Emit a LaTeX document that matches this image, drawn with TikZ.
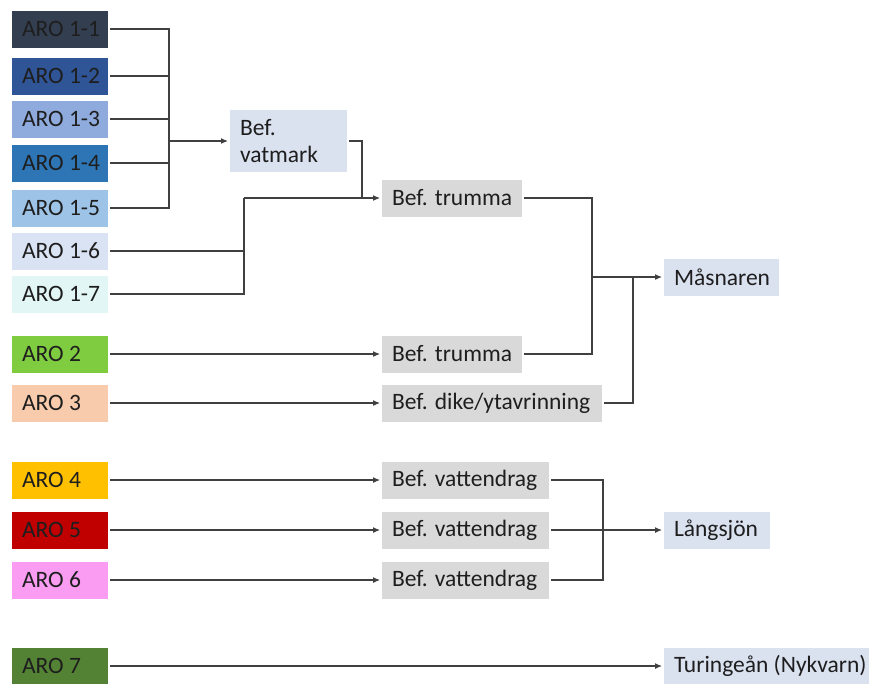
\documentclass[tikz,border=0pt]{standalone}
\usepackage{fontspec}
\setmainfont{Carlito}
\usetikzlibrary{arrows.meta}
\definecolor{c11}{HTML}{333F50}
\definecolor{c12}{HTML}{2F5597}
\definecolor{c13}{HTML}{8FAADC}
\definecolor{c14}{HTML}{2E75B6}
\definecolor{c15}{HTML}{9DC3E6}
\definecolor{c16}{HTML}{DAE3F3}
\definecolor{c17}{HTML}{E2F7F5}
\definecolor{c2}{HTML}{80CC40}
\definecolor{c3}{HTML}{F8CBAD}
\definecolor{c4}{HTML}{FFC000}
\definecolor{c5}{HTML}{C00000}
\definecolor{c6}{HTML}{F99CF2}
\definecolor{c7}{HTML}{548235}
\definecolor{bluebox}{HTML}{DAE1EF}
\definecolor{greybox}{HTML}{D9D9D9}
\definecolor{linec}{HTML}{404040}
\definecolor{txt}{HTML}{1E1E1E}
\newcommand{\lbox}[2]{\makebox[#1][l]{#2}}
\begin{document}
\begin{tikzpicture}[x=1pt,y=-1pt,
  every node/.style={font=\fontsize{23.5}{27}\selectfont, text=txt},
  box/.style={rectangle, draw=none, anchor=west, minimum height=37pt, inner xsep=10pt, inner ysep=0pt, outer sep=2pt},
  aro/.style={box, minimum width=96pt},
  grey/.style={box, fill=greybox},
  blue/.style={box, fill=bluebox},
  conn/.style={draw=linec, line width=1.1pt},
  arr/.style={conn, -{Latex[length=7pt,width=6pt]}}
]
\useasboundingbox (0,0) rectangle (869,683);
% left boxes
\node[aro, fill=c11] (a11) at (10,29) {\lbox{76pt}{ARO 1-1}};
\node[aro, fill=c12] (a12) at (10,76) {\lbox{76pt}{ARO 1-2}};
\node[aro, fill=c13] (a13) at (10,119) {\lbox{76pt}{ARO 1-3}};
\node[aro, fill=c14] (a14) at (10,163) {\lbox{76pt}{ARO 1-4}};
\node[aro, fill=c15] (a15) at (10,208) {\lbox{76pt}{ARO 1-5}};
\node[aro, fill=c16] (a16) at (10,251) {\lbox{76pt}{ARO 1-6}};
\node[aro, fill=c17] (a17) at (10,294) {\lbox{76pt}{ARO 1-7}};
\node[aro, fill=c2] (a2) at (10,354) {\lbox{76pt}{ARO 2}};
\node[aro, fill=c3] (a3) at (10,403) {\lbox{76pt}{ARO 3}};
\node[aro, fill=c4] (a4) at (10,480) {\lbox{76pt}{ARO 4}};
\node[aro, fill=c5] (a5) at (10,530) {\lbox{76pt}{ARO 5}};
\node[aro, fill=c6] (a6) at (10,580) {\lbox{76pt}{ARO 6}};
\node[aro, fill=c7, minimum height=36pt] (a7) at (10,666) {\lbox{76pt}{ARO 7}};
% middle boxes
\node[blue, minimum height=62pt, align=left] (vat) at (228,141) {\lbox{97pt}{Bef.}\\\lbox{97pt}{vatmark}};
\node[grey] (t1) at (380,198) {\lbox{120pt}{Bef. trumma}};
\node[grey] (t2) at (380,354) {\lbox{120pt}{Bef. trumma}};
\node[grey] (dike) at (380,403) {\lbox{200pt}{Bef. dike/ytavrinning}};
\node[grey] (v4) at (380,480) {\lbox{147pt}{Bef. vattendrag}};
\node[grey] (v5) at (380,530) {\lbox{147pt}{Bef. vattendrag}};
\node[grey] (v6) at (380,580) {\lbox{147pt}{Bef. vattendrag}};
% right boxes
\node[blue] (mas) at (662,277) {\lbox{95pt}{Måsnaren}};
\node[blue] (lang) at (662,530) {\lbox{86pt}{Långsjön}};
\node[blue, minimum height=36pt] (tur) at (662,666) {\lbox{185pt}{Turingeån (Nykvarn)}};
% junctions
\coordinate (j1) at (169,141);
\coordinate (j2) at (362,198);
\coordinate (j3) at (244,198);
\coordinate (j4) at (592,277);
\coordinate (j5) at (633,277);
\coordinate (j6) at (603,530);
% connectors
\draw[conn] (a11.east) -| (j1);
\draw[conn] (a12.east) -| (j1);
\draw[conn] (a13.east) -| (j1);
\draw[conn] (a14.east) -| (j1);
\draw[conn] (a15.east) -| (j1);
\draw[arr] (j1) -- (vat.west);
\draw[conn] (vat.east) -| (j2);
\draw[conn] (a16.east) -| (j3);
\draw[conn] (a17.east) -| (j3);
\draw[arr] (j3) -- (t1.west);
\draw[arr] (a2.east) -- (t2.west);
\draw[arr] (a3.east) -- (dike.west);
\draw[conn] (t1.east) -| (j4);
\draw[conn] (t2.east) -| (j4);
\draw[conn] (dike.east) -| (j5);
\draw[arr] (j4) -- (mas.west);
\draw[arr] (a4.east) -- (v4.west);
\draw[arr] (a5.east) -- (v5.west);
\draw[arr] (a6.east) -- (v6.west);
\draw[conn] (v4.east) -| (j6);
\draw[conn] (v6.east) -| (j6);
\draw[arr] (v5.east) -- (lang.west);
\draw[arr] (a7.east) -- (tur.west);
\end{tikzpicture}
\end{document}
